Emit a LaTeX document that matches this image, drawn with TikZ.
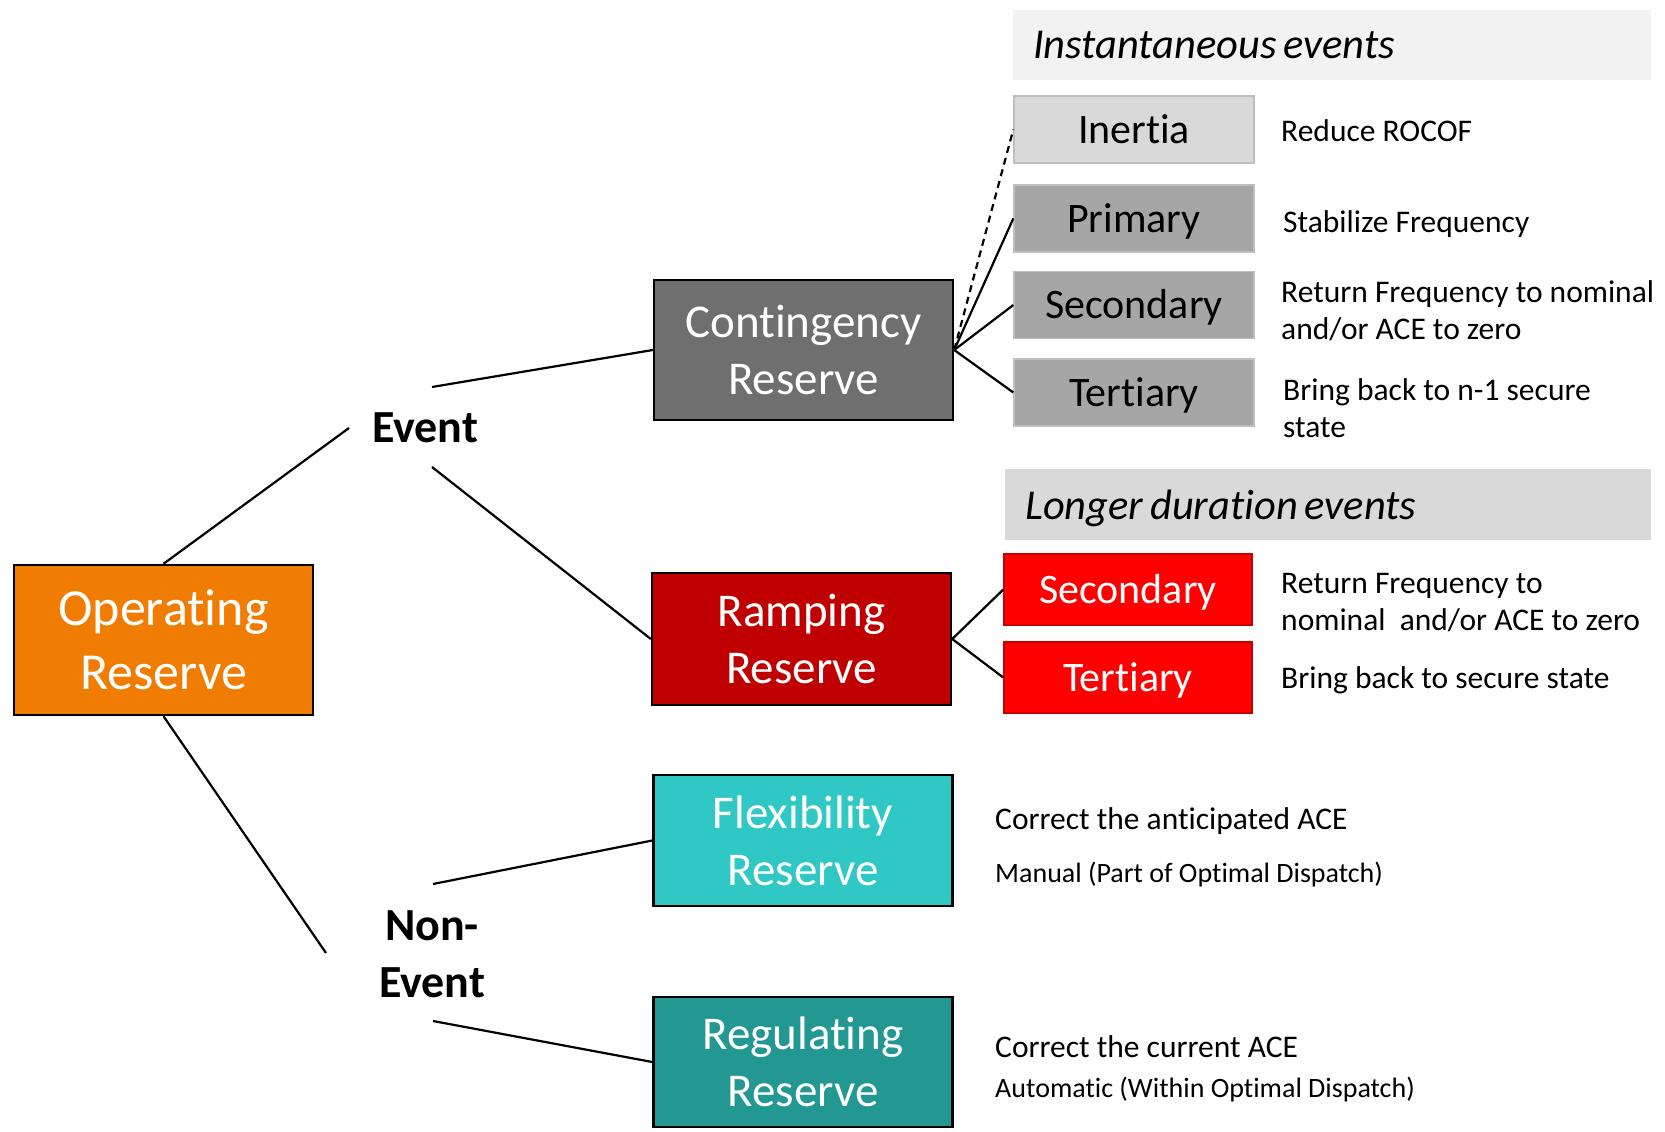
\documentclass[tikz,border=0pt]{standalone}
\usepackage{fontspec}
\setmainfont{Carlito}[RawFeature={-liga;-clig;-calt;-dlig}]
\definecolor{cOR}{HTML}{F07D02}
\definecolor{cCont}{HTML}{6F6F6F}
\definecolor{cRamp}{HTML}{C00000}
\definecolor{cFlex}{HTML}{2FC8C4}
\definecolor{cReg}{HTML}{239792}
\definecolor{cLight}{HTML}{D9D9D9}
\definecolor{cMid}{HTML}{A6A6A6}
\definecolor{cEdge}{HTML}{BFBFBF}
\definecolor{cBarA}{HTML}{F2F2F2}
\definecolor{cRed}{HTML}{FF0000}
\definecolor{cRedEdge}{HTML}{C80000}
\begin{document}
\begin{tikzpicture}[x=1pt,y=-1pt,
  mainbox/.style={draw=black,line width=2.4pt,inner sep=0pt,text=white,align=center,
    minimum width=299pt,font=\fontsize{47pt}{57pt}\selectfont},
  greybox/.style={draw=cEdge,line width=1.4pt,inner sep=0pt,text=black,
    minimum width=240pt,minimum height=67pt,text height=27pt,text depth=0pt,
    font=\fontsize{42pt}{50pt}\selectfont},
  redbox/.style={draw=cRedEdge,fill=cRed,line width=1.4pt,inner sep=0pt,text=white,
    minimum width=248pt,minimum height=71pt,text height=27pt,text depth=0pt,
    font=\fontsize{42pt}{50pt}\selectfont},
  bar/.style={anchor=north west,inner ysep=0pt,inner xsep=20pt,align=left,
    font=\fontsize{42.5pt}{50pt}\selectfont\itshape},
  lbl/.style={inner sep=0pt,font=\fontsize{46pt}{57pt}\selectfont\bfseries},
  desc/.style={inner sep=0pt,font=\fontsize{31.5pt}{37.5pt}\selectfont},
  descs/.style={inner sep=0pt,font=\fontsize{28pt}{34pt}\selectfont},
  conn/.style={line width=2.2pt,draw=black}
]
\useasboundingbox (0,0) rectangle (1665,1132);

% main boxes
\node[mainbox,fill=cOR,minimum height=150pt,font=\fontsize{52pt}{64pt}\selectfont]
  (or) at (163.5,640) {\rule{0pt}{36pt}Operating\\Reserve};
\node[mainbox,fill=cCont,minimum height=140pt] (cont) at (803.5,350) {\rule{0pt}{33pt}Contingency\\Reserve};
\node[mainbox,fill=cRamp,minimum height=132pt] (ramp) at (801.5,639) {\rule{0pt}{33pt}Ramping\\Reserve};
\node[mainbox,fill=cFlex,minimum height=131pt] (flex) at (803,840.5) {\rule{0pt}{33pt}Flexibility\\Reserve};
\node[mainbox,fill=cReg,minimum height=130pt] (reg) at (803,1062) {\rule{0pt}{33pt}Regulating\\Reserve};

% labels
\node[lbl,anchor=base] (ev) at (425,442) {Event};
\node[lbl,align=center,anchor=north] (nev) at (432,904) {\rule{0pt}{36pt}Non-\\Event};

% header bars
\node[bar,fill=cBarA,text width=598pt,minimum height=70pt,text height=26pt,text depth=0pt]
  (ibar) at (1013,10) {Instantaneous\hspace{0.16em}events};
\node[bar,fill=cLight,text width=606pt,minimum height=71pt,text height=29pt,text depth=0pt]
  (lbar) at (1005,469) {Longer\hspace{0.16em}duration\hspace{0.16em}events};

% grey boxes
\node[greybox,fill=cLight] (inertia) at (1134,129.5) {Inertia};
\node[greybox,fill=cMid] (prim) at (1134,218.5) {Primary};
\node[greybox,fill=cMid] (secA) at (1134,305) {Secondary};
\node[greybox,fill=cMid] (terA) at (1134,392.5) {Tertiary};

% red boxes
\node[redbox] (secB) at (1128,589.5) {Secondary};
\node[redbox] (terB) at (1128,677.5) {Tertiary};

% descriptions
\node[desc,anchor=base west] (d1) at (1281,141) {Reduce ROCOF};
\node[desc,anchor=base west] (d2) at (1283,232) {Stabilize Frequency};
\node[desc,align=left,anchor=north west] (d3) at (1281,277) {\rule{0pt}{25pt}Return Frequency to nominal\\and/or ACE to zero};
\node[desc,align=left,anchor=north west] (d4) at (1283,375) {\rule{0pt}{25pt}Bring back to n-1 secure\\state};
\node[desc,align=left,anchor=north west] (d5) at (1281,568) {\rule{0pt}{25pt}Return Frequency to\\nominal\ \ and/or ACE to zero};
\node[desc,anchor=base west] (d6) at (1281,688) {Bring back to secure state};
\node[desc,anchor=base west] (d7) at (995,829) {Correct the anticipated ACE};
\node[descs,anchor=base west] (d8) at (995,882) {Manual (Part of Optimal Dispatch)};
\node[desc,anchor=base west] (d9) at (995,1057) {Correct the current ACE};
\node[descs,anchor=base west] (d10) at (995,1097) {Automatic (Within Optimal Dispatch)};

% free ends of connectors near the labels
\coordinate (evW) at (349,428);
\coordinate (evNE) at (432,387);
\coordinate (evSE) at (432,467);
\coordinate (nevNW) at (326,953);
\coordinate (nevNE) at (433,884);
\coordinate (nevSE) at (433,1021);

% connectors
\draw[conn] (or.north) -- (evW);
\draw[conn] (evNE) -- (cont.west);
\draw[conn] (evSE) -- (ramp.west);
\draw[conn] (or.south) -- (nevNW);
\draw[conn] (nevNE) -- (flex.west);
\draw[conn] (nevSE) -- (reg.west);
\draw[conn,dash pattern=on 7pt off 5pt] (cont.east) -- (inertia.west);
\draw[conn] (cont.east) -- (prim.west);
\draw[conn] (cont.east) -- (secA.west);
\draw[conn] (cont.east) -- (terA.west);
\draw[conn] (ramp.east) -- (secB.west);
\draw[conn] (ramp.east) -- (terB.west);
\end{tikzpicture}
\end{document}
